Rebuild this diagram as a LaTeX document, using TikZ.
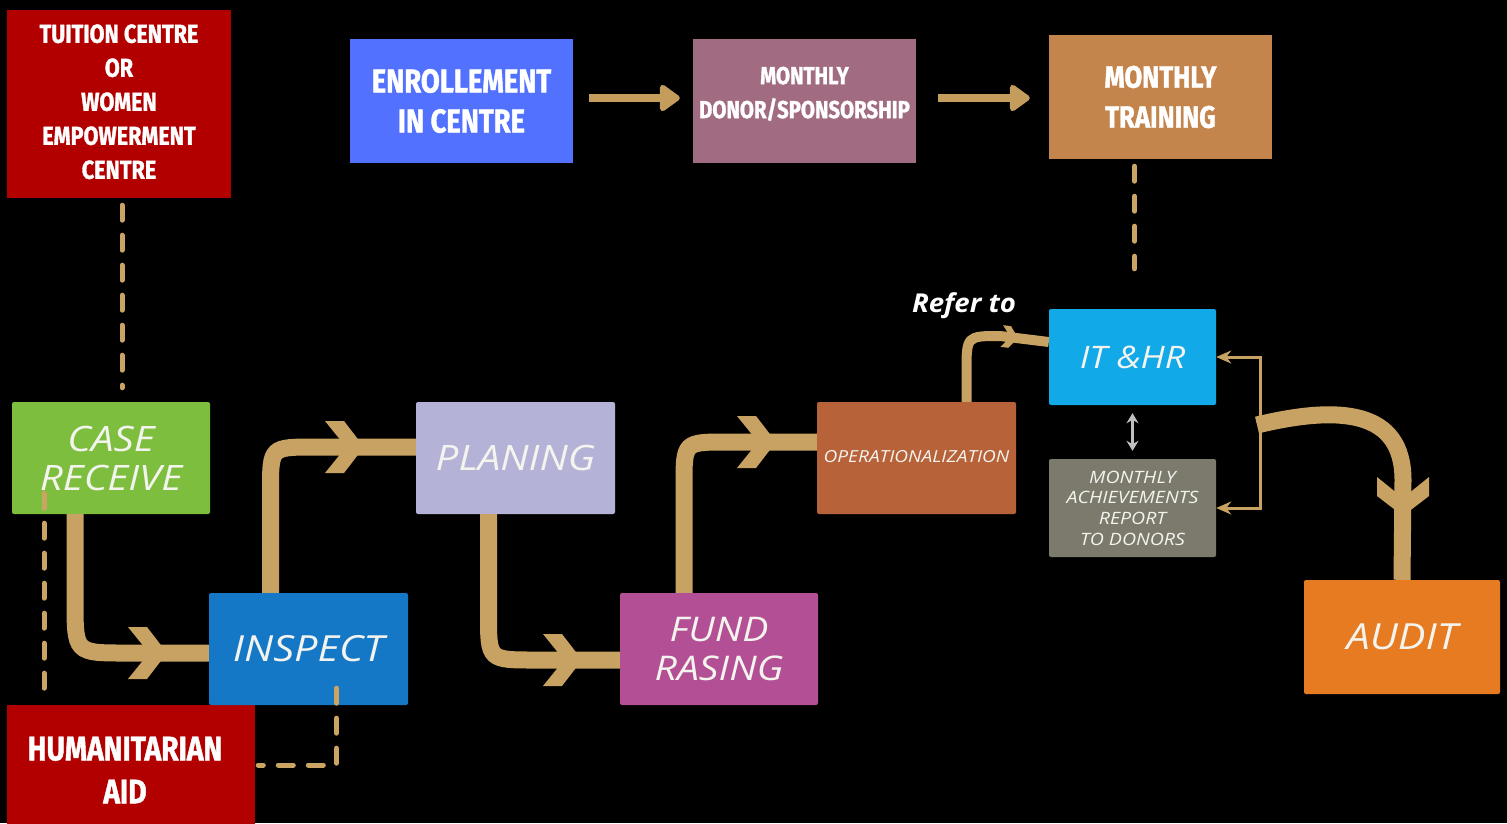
\documentclass[tikz,border=0pt]{standalone}
\usepackage{fontspec}
\usetikzlibrary{arrows.meta,calc}
\newfontfamily\boxfont[FakeStretch=0.83,FakeBold=1.2]{Fira Sans}
\newfontfamily\handfont[FakeStretch=1.15]{Open Sans}
\newfontfamily\referfont[FakeStretch=1.06]{Open Sans}
\definecolor{darkred}{HTML}{B20000}
\definecolor{enrollblue}{HTML}{5271FF}
\definecolor{mauve}{HTML}{A16C82}
\definecolor{trainbrown}{HTML}{C4854D}
\definecolor{casegreen}{HTML}{7DBE3F}
\definecolor{inspblue}{HTML}{1478C6}
\definecolor{lavender}{HTML}{B5B2D8}
\definecolor{fundmag}{HTML}{B34F94}
\definecolor{opbrown}{HTML}{B8623A}
\definecolor{itcyan}{HTML}{12A9E9}
\definecolor{repgrey}{HTML}{7B7A6C}
\definecolor{auditorange}{HTML}{E67B22}
\definecolor{tan}{HTML}{C8A263}
\definecolor{toptan}{HTML}{C49C5C}
\definecolor{dashtan}{HTML}{C9A462}
\definecolor{softwhite}{HTML}{F4F4EE}
\tikzset{
  topbox/.style={rectangle, inner sep=0pt, text=white, align=center, font=\boxfont\bfseries},
  flowbox/.style={rectangle, rounded corners=2pt, inner sep=0pt, text=softwhite, align=center},
  hand/.style={font=\handfont\itshape\fontsize{#1}{39}\selectfont},
  flow/.style={draw=tan, line width=17pt, line cap=butt},
  thinflow/.style={draw=tan, line width=10pt, line cap=butt},
  dashline/.style={draw=dashtan, line width=5pt, line cap=round, dash pattern=on 15pt off 15pt},
  toparrow/.style={draw=toptan, line width=8pt, -{Triangle[length=22pt,width=30pt,round]}},
  bracket/.style={draw=tan, line width=3pt, -{Stealth[length=15pt,width=13pt]}},
  chevron/.pic={\fill[tan] (-39,-26) -- (-20,-26) -- (0,0) -- (-20,26) -- (-39,26) -- (-18,0) -- cycle;}
}
\begin{document}
\begin{tikzpicture}[x=1pt,y=-1pt]
\fill[black] (0,0) rectangle (1507,823);
\useasboundingbox (0,0) rectangle (1507,823);

% top row
\node[topbox, fill=darkred, minimum width=224pt, minimum height=188pt,
      font=\boxfont\bfseries\fontsize{26}{34}\selectfont] (tu) at (119,104)
  {\raisebox{-4pt}[0pt][0pt]{\parbox{220pt}{\centering TUITION CENTRE\\OR\\WOMEN\\EMPOWERMENT\\CENTRE}}};
\node[topbox, fill=enrollblue, minimum width=223pt, minimum height=124pt,
      font=\boxfont\bfseries\fontsize{33}{40}\selectfont] (en) at (461.5,101)
  {ENROLLEMENT\\IN CENTRE};
\node[topbox, fill=mauve, minimum width=223pt, minimum height=124pt,
      font=\boxfont\bfseries\fontsize{24.5}{34}\selectfont] (do) at (804.5,101)
  {\raisebox{1pt}[0pt][0pt]{\parbox{220pt}{\centering MONTHLY\\DONOR/SPONSORSHIP}}};
\node[topbox, fill=trainbrown, minimum width=223pt, minimum height=124pt,
      font=\boxfont\bfseries\fontsize{31}{40}\selectfont] (tr) at (1160.5,97)
  {MONTHLY\\TRAINING};
\node[topbox, fill=darkred, minimum width=248pt, minimum height=130pt,
      font=\boxfont\bfseries\fontsize{34}{43}\selectfont] (hu) at (131,770)
  {\hspace*{-12pt}HUMANITARIAN\\\hspace*{-12pt}AID};

% flow boxes
\node[flowbox, fill=casegreen, minimum width=198pt, minimum height=112pt, hand=35] (cr) at (111,458) {CASE\\RECEIVE};
\node[flowbox, fill=inspblue, minimum width=199pt, minimum height=112pt, hand=36] (in) at (308.5,649) {INSPECT};
\node[flowbox, fill=lavender, minimum width=199pt, minimum height=112pt, hand=35] (pl) at (515.5,458) {PLANING};
\node[flowbox, fill=fundmag, minimum width=198pt, minimum height=112pt, hand=34] (fu) at (719,649) {FUND\\RASING};
\node[flowbox, fill=opbrown, minimum width=199pt, minimum height=112pt, hand=16.6] (op) at (916.5,458) {\raisebox{3pt}{OPERATIONALIZATION}};
\node[flowbox, fill=itcyan, minimum width=167pt, minimum height=96pt, hand=31] (it) at (1132.5,357) {IT \&HR};
\node[flowbox, fill=repgrey, minimum width=167pt, minimum height=98pt,
      font=\handfont\itshape\fontsize{17}{20.7}\selectfont] (ma) at (1132.5,508)
  {MONTHLY\\ACHIEVEMENTS\\REPORT\\TO DONORS};
\node[flowbox, fill=auditorange, minimum width=196pt, minimum height=114pt, hand=36] (au) at (1402,637) {AUDIT};
\node[text=white, font=\referfont\itshape\bfseries\fontsize{26}{30}\selectfont] (refer) at (964,306) {Refer to};

% top arrows
\draw[toparrow, shorten <=16pt, shorten >=13pt] ([yshift=3pt]en.east) -- ([yshift=3pt]do.west);
\draw[toparrow, shorten <=22pt, shorten >=19pt] ([yshift=3pt]do.east) -- ([yshift=-1pt]tr.west);

% dashed links
\draw[dashline] ([xshift=3pt,yshift=-7pt]tu.south) -- ([xshift=11pt,yshift=14pt]cr.north);
\draw[dashline] ([xshift=-26pt,yshift=-7pt]tr.south) -- ([xshift=2pt,yshift=40pt]it.north);
\draw[dashline] ([xshift=-67pt,yshift=21pt]cr.south) -- ([xshift=-87pt,yshift=10pt]hu.north);
\draw[dashline] ([xshift=28pt,yshift=17pt]in.south) |- ([xshift=3pt,yshift=5pt]hu.east);

% flow arrows
\draw[flow] ([xshift=-36pt]cr.south) -- (75,600) .. controls (75,653) .. (125,653) -- ([yshift=-4pt]in.west);
\pic at (167,653) {chevron};
\draw[flow] ([xshift=-38pt]in.north) -- (270.5,490) .. controls (270.5,447) .. (315,447) -- ([yshift=11pt]pl.west);
\pic at (364,447) {chevron};
\draw[flow] ([xshift=-27pt]pl.south) -- (488.5,615) .. controls (488.5,660) .. (535,660) -- ([yshift=-11pt]fu.west);
\pic at (582,660) {chevron};
\draw[flow] ([xshift=-35pt]fu.north) -- (684,485) .. controls (684,442) .. (727,442) -- ([yshift=16pt]op.west);
\pic at (776,442) {chevron};
\draw[thinflow] ([xshift=50pt]op.north) -- (966.5,372) .. controls (966.5,336) .. (1000,336) -- ([yshift=15pt]it.west);
\pic[scale=0.42, rotate=-7] at (1018,338) {chevron};

% bracket and audit
\coordinate (fork) at (1260,425);
\draw[bracket] (fork) |- (it.east);
\draw[bracket] (fork) |- (ma.east);
\draw[flow] (1257,425) .. controls (1340,405) and (1403,410) .. (1403,480) -- (au.north);
\pic[rotate=-90] at (1403,516) {chevron};

% double arrow
\draw[draw=lightgray, line width=3pt, {Stealth[length=10pt,width=12pt]}-{Stealth[length=10pt,width=12pt]}, shorten <=8pt, shorten >=8pt] (it.south) -- (ma.north);
\end{tikzpicture}
\end{document}
